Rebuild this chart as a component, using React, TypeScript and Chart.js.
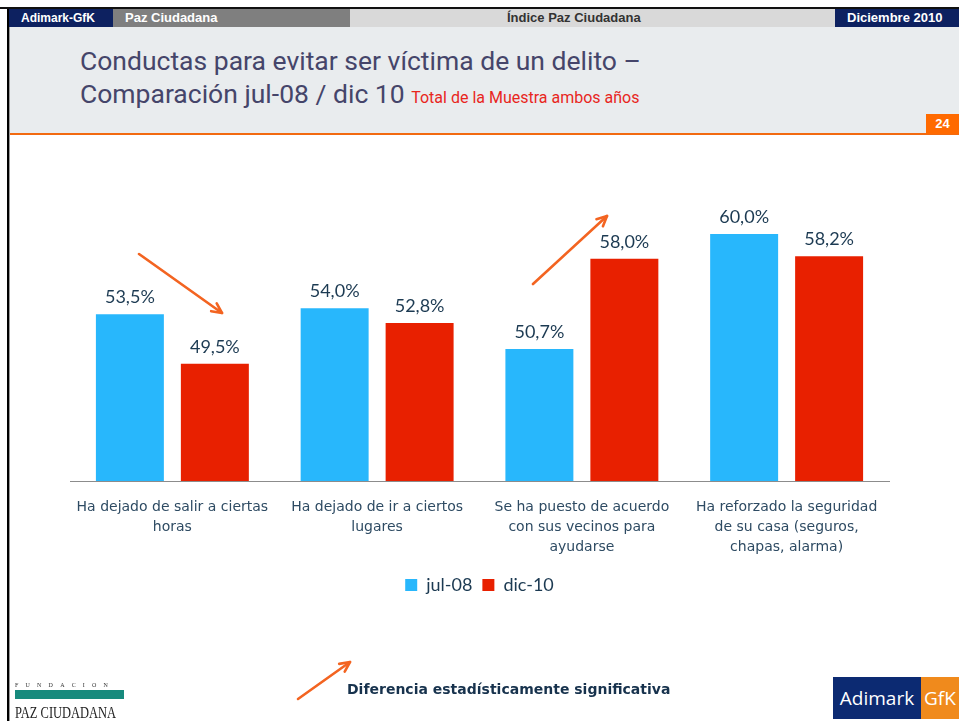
import React, { useEffect, useRef } from 'react';
import { Chart, registerables } from 'chart.js';

Chart.register(...registerables);

const categories: string[][] = [
  ['Ha dejado de salir a ciertas', 'horas'],
  ['Ha dejado de ir a ciertos', 'lugares'],
  ['Se ha puesto de acuerdo', 'con sus vecinos para', 'ayudarse'],
  ['Ha reforzado la seguridad', 'de su casa (seguros,', 'chapas, alarma)'],
];
const seriesNames = ['jul-08', 'dic-10'];
const jul08 = [53.5, 54.0, 50.7, 60.0];
const dic10 = [49.5, 52.8, 58.0, 58.2];
const seriesColors = ['#28b7fc', '#e82000'];
const yMin = 40;
const yMax = 66;

const valueLabels = {
  id: 'valueLabels',
  afterDatasetsDraw(chart: any) {
    const ctx = chart.ctx;
    ctx.save();
    ctx.font = '18px Lato';
    ctx.fillStyle = '#1c3a52';
    ctx.textAlign = 'center';
    ctx.textBaseline = 'middle';
    chart.data.datasets.forEach((ds: any, i: number) => {
      const meta = chart.getDatasetMeta(i);
      meta.data.forEach((bar: any, j: number) => {
        const v = ds.data[j] as number;
        ctx.fillText(v.toFixed(1).replace('.', ',') + '%', bar.x, bar.y - 17);
      });
    });
    ctx.restore();
  },
};

function Arrow({ x1, y1, x2, y2 }: { x1: number; y1: number; x2: number; y2: number }) {
  const a = Math.atan2(y2 - y1, x2 - x1);
  const L = 11;
  const s = 0.45;
  const p1 = [x2 - L * Math.cos(a - s), y2 - L * Math.sin(a - s)];
  const p2 = [x2 - L * Math.cos(a + s), y2 - L * Math.sin(a + s)];
  return (
    <g stroke="#f36421" strokeWidth={2.6} fill="none" strokeLinecap="round" strokeLinejoin="round">
      <line x1={x1} y1={y1} x2={x2} y2={y2} />
      <polyline points={`${p1[0]},${p1[1]} ${x2},${y2} ${p2[0]},${p2[1]}`} />
    </g>
  );
}

export default function App() {
  const canvasRef = useRef<HTMLCanvasElement | null>(null);

  useEffect(() => {
    document.body.style.margin = '0';
    const canvas = canvasRef.current;
    if (!canvas) return;
    const chart = new Chart(canvas, {
      type: 'bar',
      data: {
        labels: categories,
        datasets: [
          { label: seriesNames[0], data: jul08, backgroundColor: seriesColors[0], categoryPercentage: 0.83, barPercentage: 0.8 },
          { label: seriesNames[1], data: dic10, backgroundColor: seriesColors[1], categoryPercentage: 0.83, barPercentage: 0.8 },
        ],
      },
      options: {
        animation: false,
        responsive: false,
        devicePixelRatio: 1,
        layout: { padding: { left: 70, right: 70, top: 20, bottom: 0 } },
        plugins: {
          legend: {
            position: 'bottom',
            labels: {
              font: { family: 'Lato', size: 18 },
              color: '#1c3a52',
              boxWidth: 12,
              boxHeight: 12,
              padding: 10,
            },
          },
          tooltip: { enabled: false },
        },
        scales: {
          x: {
            grid: { display: false, drawTicks: false },
            border: { display: true, color: '#8c8c8c', width: 1 },
            ticks: {
              font: { family: 'DejaVu Sans', size: 14, lineHeight: '20px' },
              color: '#2e4b63',
              padding: 16,
              autoSkip: false,
              maxRotation: 0,
              minRotation: 0,
            },
            afterFit: (scale: any) => {
              scale.height = 85;
            },
          },
          y: {
            display: false,
            min: yMin,
            max: yMax,
          },
        },
      },
      plugins: [valueLabels],
    });
    return () => chart.destroy();
  }, []);

  const hdr = { position: 'absolute' as const, top: 9, height: 18, fontWeight: 'bold' as const, fontSize: 13, lineHeight: '18px', boxSizing: 'border-box' as const, whiteSpace: 'nowrap' as const };

  return (
    <div style={{ position: 'relative', width: 959, height: 721, overflow: 'hidden', background: '#ffffff', fontFamily: 'Liberation Sans, Arial, sans-serif' }}>
      {/* left border */}
      <div style={{ position: 'absolute', left: 7, top: 8, width: 2, height: 713, background: '#000' }} />
      <div style={{ position: 'absolute', left: 9, top: 8, width: 1, height: 713, background: '#9a9a9a' }} />
      {/* header bar */}
      <div style={{ position: 'absolute', left: 0, top: 7, width: 959, height: 2, background: '#111' }} />
      <div style={{ ...hdr, left: 9, width: 104, background: '#0d2160', color: '#fff', paddingLeft: 12, fontSize: 12 }}>Adimark-GfK</div>
      <div style={{ ...hdr, left: 113, width: 237, background: '#7f7f7f', color: '#fff', paddingLeft: 12 }}>Paz Ciudadana</div>
      <div style={{ ...hdr, left: 350, width: 485, background: '#d9d9d9', color: '#333', paddingLeft: 157 }}>Índice Paz Ciudadana</div>
      <div style={{ ...hdr, left: 835, width: 124, background: '#0d2160', color: '#fff', paddingLeft: 12 }}>Diciembre 2010</div>
      {/* title area */}
      <div style={{ position: 'absolute', left: 10, top: 27, width: 949, height: 106, background: '#e9ecee' }} />
      <div style={{ position: 'absolute', left: 80, top: 44, color: '#45456a', fontSize: 26.5, fontFamily: 'Roboto, sans-serif', lineHeight: '33px', whiteSpace: 'nowrap' }}>
        <div>Conductas para evitar ser víctima de un delito –</div>
        <div>
          Comparación jul-08 / dic 10{' '}
          <span style={{ color: '#e8261d', fontSize: 16 }}>Total de la Muestra ambos años</span>
        </div>
      </div>
      <div style={{ position: 'absolute', left: 10, top: 133, width: 949, height: 2, background: '#f26a10' }} />
      <div style={{ position: 'absolute', left: 926, top: 114, width: 33, height: 20, background: '#ff6a00', color: '#fff', fontWeight: 'bold', fontSize: 13, lineHeight: '20px', textAlign: 'center' }}>24</div>
      {/* chart */}
      <canvas ref={canvasRef} width={959} height={464} style={{ position: 'absolute', left: 0, top: 140, width: 959, height: 464 }} />
      {/* arrows */}
      <svg width={959} height={721} style={{ position: 'absolute', left: 0, top: 0, pointerEvents: 'none' }}>
        <Arrow x1={139} y1={254} x2={222} y2={313} />
        <Arrow x1={533} y1={284} x2={607} y2={216} />
        <Arrow x1={298} y1={699} x2={350} y2={662} />
      </svg>
      {/* footer */}
      <div style={{ position: 'absolute', left: 347, top: 681, color: '#17324d', fontWeight: 'bold', fontSize: 14, fontFamily: 'DejaVu Sans, sans-serif', whiteSpace: 'nowrap' }}>Diferencia estadísticamente significativa</div>
      {/* Fundacion logo */}
      <div style={{ position: 'absolute', left: 15, top: 682, width: 110, fontFamily: 'Liberation Serif, serif', fontSize: 6, letterSpacing: 7.2, color: '#333', whiteSpace: 'nowrap' }}>FUNDACION</div>
      <div style={{ position: 'absolute', left: 15, top: 690, width: 109, height: 9, background: '#178a7d' }} />
      <div style={{ position: 'absolute', left: 15, top: 704, fontFamily: 'Liberation Serif, serif', fontSize: 16, color: '#222', whiteSpace: 'nowrap', transform: 'scaleX(0.78)', transformOrigin: 'left top', lineHeight: '17px' }}>PAZ CIUDADANA</div>
      {/* Adimark GfK logo */}
      <div style={{ position: 'absolute', left: 833, top: 677, width: 88, height: 42, background: '#0c2a72', color: '#fff', fontSize: 19, lineHeight: '42px', textAlign: 'center', fontFamily: 'Open Sans, sans-serif' }}>Adimark</div>
      <div style={{ position: 'absolute', left: 921, top: 677, width: 38, height: 42, background: '#f08a1c', color: '#fff', fontSize: 19, lineHeight: '42px', paddingLeft: 3, boxSizing: 'border-box', fontFamily: 'Open Sans, sans-serif' }}>GfK</div>
    </div>
  );
}
